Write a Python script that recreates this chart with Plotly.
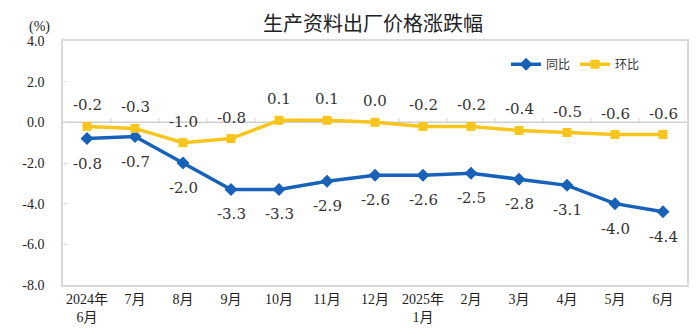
import plotly.graph_objects as go

months = ["2024年<br>6月", "7月", "8月", "9月", "10月", "11月", "12月",
          "2025年<br>1月", "2月", "3月", "4月", "5月", "6月"]
yoy = [-0.8, -0.7, -2.0, -3.3, -3.3, -2.9, -2.6, -2.6, -2.5, -2.8, -3.1, -4.0, -4.4]
mom = [-0.2, -0.3, -1.0, -0.8, 0.1, 0.1, 0.0, -0.2, -0.2, -0.4, -0.5, -0.6, -0.6]
y_ticks = [4, 2, 0, -2, -4, -6, -8]

BLUE = "#1762B8"
YELLOW = "#F7C51E"
NUM_FONT = "Liberation Serif, Noto Sans CJK SC"
LABEL_FONT = "DejaVu Serif, Liberation Serif"
CJK_FONT = "Noto Sans CJK SC, sans-serif"

xs = list(range(len(months)))

fig = go.Figure()
fig.add_trace(go.Scatter(
    x=xs, y=yoy, mode="lines+markers", name="同比",
    line=dict(color=BLUE, width=3.5),
    marker=dict(symbol="diamond", size=10, color=BLUE),
))
fig.add_trace(go.Scatter(
    x=xs, y=mom, mode="lines+markers", name="环比",
    line=dict(color=YELLOW, width=3.5),
    marker=dict(symbol="square", size=9, color=YELLOW),
))

# value labels: 环比 above its points, 同比 below
for x, v in zip(xs, mom):
    fig.add_annotation(x=x, y=v, text=f"{v:.1f}", showarrow=False,
                       yshift=21, font=dict(family=LABEL_FONT, size=15, color="#333"))
for x, v in zip(xs, yoy):
    fig.add_annotation(x=x, y=v, text=f"{v:.1f}", showarrow=False,
                       yshift=-25, font=dict(family=LABEL_FONT, size=15, color="#333"))

# zero line with small category-boundary ticks
fig.add_shape(type="line", xref="x", yref="y", x0=-0.5, x1=len(months) - 0.5,
              y0=0, y1=0, line=dict(color="#cfcfcf", width=1.5), layer="below")
for b in range(1, len(months)):
    fig.add_shape(type="line", xref="x", yref="y", x0=b - 0.5, x1=b - 0.5,
                  y0=0, y1=0.22, line=dict(color="#cfcfcf", width=1), layer="below")

fig.add_annotation(xref="paper", yref="paper", x=-0.038, y=1.0, yshift=24,
                   text="(%)", showarrow=False, xanchor="center",
                   font=dict(family=NUM_FONT, size=14, color="#222"))

fig.update_layout(
    width=700, height=336,
    margin=dict(l=63, r=11, t=41, b=50),
    paper_bgcolor="white", plot_bgcolor="white",
    title=dict(text="生产资料出厂价格涨跌幅", x=0.533, xanchor="center",
               y=0.93, yanchor="middle",
               font=dict(family=CJK_FONT, size=20, color="#222")),
    legend=dict(orientation="h", x=0.71, y=0.905, xanchor="left", yanchor="middle",
                font=dict(family=CJK_FONT, size=12, color="#333"),
                bgcolor="rgba(0,0,0,0)", itemwidth=30, tracegroupgap=0),
    showlegend=True,
)
fig.update_xaxes(
    range=[-0.5, len(months) - 0.5],
    tickmode="array", tickvals=xs, ticktext=months,
    showgrid=False, zeroline=False,
    showline=True, linecolor="#d9d9d9", linewidth=1.5, mirror=True,
    ticks="", tickfont=dict(family=NUM_FONT, size=14, color="#222"),
)
fig.update_yaxes(
    range=[-8, 4], tickmode="array", tickvals=y_ticks,
    ticktext=[f"{t:.1f}" for t in y_ticks],
    showgrid=False, zeroline=False,
    showline=True, linecolor="#d9d9d9", linewidth=1.5, mirror=True,
    ticks="inside", ticklen=4, tickcolor="#d9d9d9",
    ticklabelstandoff=14,
    tickfont=dict(family=NUM_FONT, size=14, color="#222"),
)

fig.write_html("out.html")
